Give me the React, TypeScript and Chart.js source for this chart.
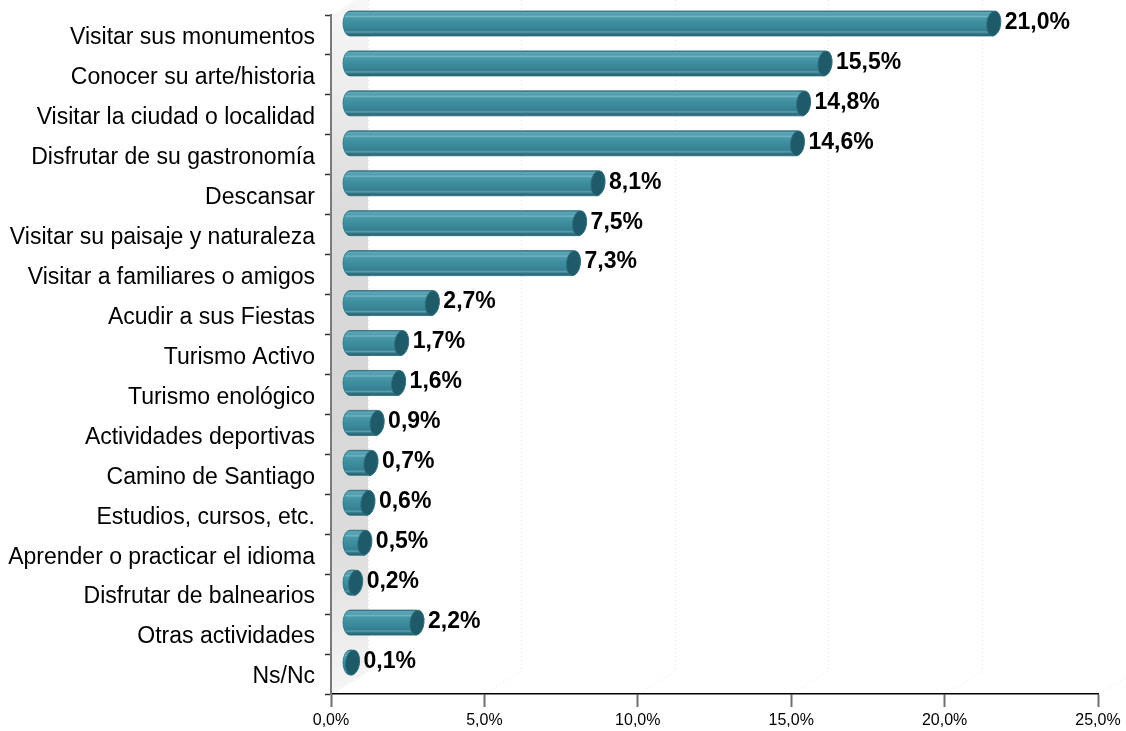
import React, { useEffect, useRef } from "react";
import { Chart, registerables } from "chart.js";

Chart.register(...registerables);

const categories = [
  "Visitar sus monumentos",
  "Conocer su arte/historia",
  "Visitar la ciudad o localidad",
  "Disfrutar de su gastronomía",
  "Descansar",
  "Visitar su paisaje y naturaleza",
  "Visitar a familiares o amigos",
  "Acudir a sus Fiestas",
  "Turismo Activo",
  "Turismo enológico",
  "Actividades deportivas",
  "Camino de Santiago",
  "Estudios, cursos, etc.",
  "Aprender o practicar el idioma",
  "Disfrutar de balnearios",
  "Otras actividades",
  "Ns/Nc",
];

const values = [21.0, 15.5, 14.8, 14.6, 8.1, 7.5, 7.3, 2.7, 1.7, 1.6, 0.9, 0.7, 0.6, 0.5, 0.2, 2.2, 0.1];

const axisMin = 0;
const axisMax = 25;
const axisStep = 5;

const FONT = '"Liberation Sans", Arial, Helvetica, sans-serif';
const DX = 37;
const DY = -23;

const fmt = (v: number) => v.toFixed(1).replace(".", ",") + "%";

const cylinderPlugin = {
  id: "cylinder3d",
  beforeDraw(chart: any) {
    const { ctx, chartArea: ca, scales } = chart;
    const x = scales.x;
    ctx.save();
    const x0 = x.getPixelForValue(axisMin);
    const g = ctx.createLinearGradient(0, ca.top + DY, 0, ca.bottom);
    g.addColorStop(0, "#f8f8f8");
    g.addColorStop(0.14, "#ededed");
    g.addColorStop(0.3, "#dcdcdc");
    g.addColorStop(0.55, "#d6d6d6");
    g.addColorStop(0.78, "#dcdcdc");
    g.addColorStop(0.92, "#ededed");
    g.addColorStop(1, "#f6f6f6");
    ctx.fillStyle = g;
    ctx.beginPath();
    ctx.moveTo(x0, ca.top);
    ctx.lineTo(x0 + DX, ca.top + DY);
    ctx.lineTo(x0 + DX, ca.bottom + DY);
    ctx.lineTo(x0, ca.bottom);
    ctx.closePath();
    ctx.fill();

    ctx.strokeStyle = "#e2e2e2";
    ctx.lineWidth = 1;
    ctx.setLineDash([1, 3]);
    for (const t of x.ticks) {
      const px = Math.round(x.getPixelForValue(t.value)) + 0.5;
      ctx.beginPath();
      ctx.moveTo(px + DX, ca.top + DY);
      ctx.lineTo(px + DX, ca.bottom + DY);
      ctx.lineTo(px, ca.bottom);
      ctx.stroke();
    }
    ctx.restore();
  },
  afterDatasetsDraw(chart: any) {
    const { ctx } = chart;
    const meta = chart.getDatasetMeta(0);
    const ds = chart.data.datasets[0].data as number[];
    ctx.save();
    meta.data.forEach((el: any, i: number) => {
      const p = el.getProps(["x", "y", "base", "height"], true);
      const bx0 = p.base + DX / 2;
      const bx1 = p.x + DX / 2;
      const cy = p.y + DY / 2;
      const ry = p.height / 2;
      const rx = 7;
      const top = cy - ry;
      const bot = cy + ry;

      const g = ctx.createLinearGradient(0, top, 0, bot);
      g.addColorStop(0, "#2a6f7f");
      g.addColorStop(0.06, "#5fa7b7");
      g.addColorStop(0.16, "#4f9dae");
      g.addColorStop(0.22, "#72b4c2");
      g.addColorStop(0.28, "#4998aa");
      g.addColorStop(0.45, "#3f8fa1");
      g.addColorStop(0.62, "#3a889a");
      g.addColorStop(0.78, "#347f91");
      g.addColorStop(0.84, "#5c9fae");
      g.addColorStop(0.9, "#33788a");
      g.addColorStop(1, "#245d6b");

      ctx.beginPath();
      ctx.moveTo(bx1, top);
      ctx.lineTo(bx0, top);
      ctx.ellipse(bx0, cy, rx, ry, 0, -Math.PI / 2, Math.PI / 2, true);
      ctx.lineTo(bx1, bot);
      ctx.closePath();
      ctx.fillStyle = g;
      ctx.fill();
      ctx.strokeStyle = "#2b6d7c";
      ctx.lineWidth = 0.8;
      ctx.stroke();

      ctx.beginPath();
      ctx.ellipse(bx1, cy, rx, ry, 0.12, 0, Math.PI * 2);
      ctx.fillStyle = "#1f5a68";
      ctx.fill();
      ctx.strokeStyle = "#2d7080";
      ctx.lineWidth = 1;
      ctx.stroke();

      ctx.font = `bold 23px ${FONT}`;
      ctx.fillStyle = "#000";
      ctx.textAlign = "left";
      ctx.textBaseline = "middle";
      ctx.fillText(fmt(ds[i]), bx1 + rx + 4, cy - 1);
    });
    ctx.restore();
  },
};

export default function App() {
  const ref = useRef<HTMLCanvasElement | null>(null);
  useEffect(() => {
    if (!ref.current) return;
    Chart.defaults.font.family = FONT;
    const chart = new Chart(ref.current, {
      type: "bar",
      data: {
        labels: categories,
        datasets: [
          {
            data: values,
            backgroundColor: "rgba(0,0,0,0)",
            borderWidth: 0,
            barThickness: 25,
          },
        ],
      },
      options: {
        indexAxis: "y",
        responsive: false,
        animation: false,
        events: [],
        layout: { padding: { top: 15, right: 28, left: 0, bottom: 0 } },
        plugins: { legend: { display: false }, tooltip: { enabled: false } },
        scales: {
          x: {
            type: "linear",
            min: axisMin,
            max: axisMax,
            ticks: {
              stepSize: axisStep,
              callback: (v: any) => fmt(Number(v)),
              font: { size: 16, family: FONT },
              color: "#000",
              padding: 4,
              maxRotation: 0,
            },
            grid: {
              drawOnChartArea: false,
              drawTicks: true,
              tickLength: 13,
              tickColor: "#6e6e6e",
              tickWidth: 2,
            },
            border: { color: "#000", width: 1.5 },
            afterFit: (s: any) => {
              s.height = 37;
            },
          },
          y: {
            type: "category",
            ticks: {
              font: { size: 23, family: FONT },
              color: "#000",
              padding: 10,
              labelOffset: 3,
              autoSkip: false,
            },
            grid: {
              offset: true,
              drawOnChartArea: false,
              tickLength: 6,
              tickColor: "#333",
              tickWidth: 1.5,
            },
            border: { color: "#7a7a7a", width: 2 },
            afterFit: (s: any) => {
              s.width = 331;
              s.paddingTop = 0;
              s.paddingBottom = 0;
            },
          },
        },
      },
      plugins: [cylinderPlugin],
    } as any);
    return () => chart.destroy();
  }, []);
  return (
    <div style={{ position: "fixed", left: 0, top: 0, width: 1126, height: 731, background: "#fff" }}>
      <canvas ref={ref} width={1126} height={731} style={{ display: "block" }} />
    </div>
  );
}
